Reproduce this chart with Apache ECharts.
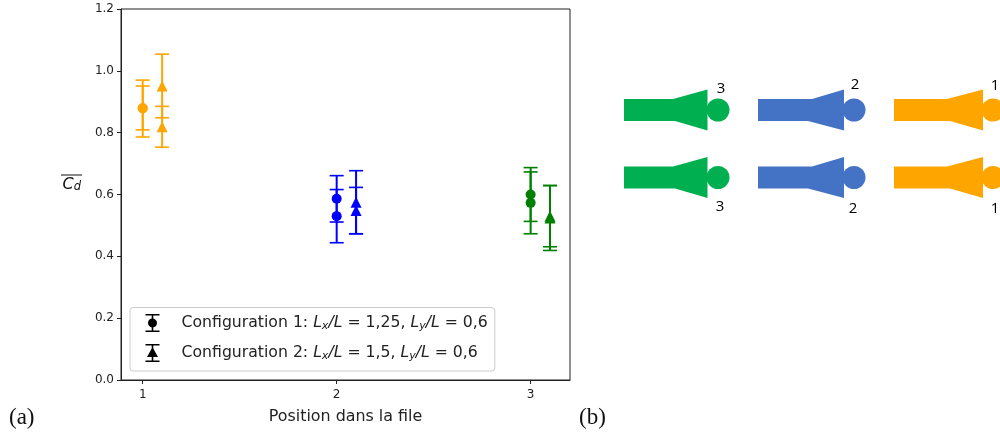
<!DOCTYPE html>
<html><head><meta charset="utf-8">
<style>html,body{margin:0;padding:0;background:#fff}#c{width:1000px;height:434px}</style>
<script src="https://cdn.jsdelivr.net/npm/echarts@6/dist/echarts.min.js"></script>
</head><body><div id="c"></div>
<script>
const positionTicks = [1, 2, 3];
const yTicksMax = 1.2;
const colors = ['#ffa500', '#0000ff', '#008000'];
const config1Name = 'Configuration 1';
const config2Name = 'Configuration 2';
const config1X = [1, 1, 2, 2, 3, 3];
const config1Mean = [0.878, 0.880, 0.586, 0.530, 0.600, 0.573];
const config1Err = [0.092, 0.071, 0.075, 0.086, 0.087, 0.100];
const config1Color = [0, 0, 1, 1, 2, 2];
const config2X = [1.1, 1.1, 2.1, 2.1, 3.1, 3.1];
const config2Mean = [0.951, 0.819, 0.575, 0.548, 0.524, 0.530];
const config2Err = [0.103, 0.066, 0.102, 0.075, 0.105, 0.099];
const config2Color = [0, 0, 1, 1, 2, 2];

const sansFont = 'DejaVu Sans';
function rows(x, m, e, c) { return x.map((v, i) => [v, m[i], e[i], c[i]]); }
function errRender(params, api) {
  const x = api.value(0), m = api.value(1), e = api.value(2), col = colors[api.value(3)];
  const top = api.coord([x, m + e]), bot = api.coord([x, m - e]);
  const w = 7;
  const st = { stroke: col, lineWidth: 2, fill: 'none' };
  return { type: 'group', children: [
    { type: 'line', shape: { x1: top[0], y1: top[1], x2: bot[0], y2: bot[1] }, style: st },
    { type: 'line', shape: { x1: top[0] - w, y1: top[1], x2: top[0] + w, y2: top[1] }, style: { ...st, lineWidth: 1.6 } },
    { type: 'line', shape: { x1: bot[0] - w, y1: bot[1], x2: bot[0] + w, y2: bot[1] }, style: { ...st, lineWidth: 1.6 } }
  ]};
}
function errSeries(d) {
  return { type: 'custom', renderItem: errRender, data: d, encode: { x: 0, y: 1 }, silent: true, clip: false, z: 2 };
}
function markSeries(name, symbol, d) {
  return { name, type: 'scatter', symbol, symbolSize: symbol === 'circle' ? 10 : 11,
    data: d.map(r => ({ value: r, itemStyle: { color: colors[r[3]], opacity: 1 } })), z: 3, silent: true };
}
const chart = echarts.init(document.getElementById('c'), null, { renderer: 'canvas' });

function vehicle(col, x0, xt, xb, xBase, cx, yc, r) {
  return [
    { type: 'polygon', shape: { points: [[x0, yc - 11], [xt, yc - 11], [xBase, yc - 20.5], [xBase, yc + 20.5], [xb, yc + 11], [x0, yc + 11]] }, style: { fill: col } },
    { type: 'circle', shape: { cx, cy: yc, r }, style: { fill: col } }
  ];
}
function lab(t, x, y) {
  return { type: 'text', x, y, style: { text: t, font: '15px "Open Sans"', fill: '#000', align: 'center', verticalAlign: 'middle' } };
}
const schem = [
  ...vehicle('#00b050', 624, 673, 675, 707.5, 718, 110, 11.5),
  ...vehicle('#00b050', 624, 673, 675, 707.5, 718, 177.5, 11.5),
  ...vehicle('#4472c4', 758, 812, 808, 844, 854, 110, 11.5),
  ...vehicle('#4472c4', 758, 812, 808, 844, 854, 177.5, 11.5),
  ...vehicle('#ffa500', 894, 947, 950, 983, 993, 110, 11.5),
  ...vehicle('#ffa500', 894, 947, 950, 983, 993, 177.5, 11.5),
  lab('3', 721, 89), lab('3', 720, 207), lab('2', 855, 85), lab('2', 853, 209), lab('1', 995, 86), lab('1', 995, 209),
  { type: 'text', x: 9, y: 418, style: { text: '(a)', font: '23px "Liberation Serif"', fill: '#111', verticalAlign: 'middle' } },
  { type: 'text', x: 579, y: 418, style: { text: '(b)', font: '23px "Liberation Serif"', fill: '#111', verticalAlign: 'middle' } },
  { type: 'line', shape: { x1: 61, y1: 175, x2: 82, y2: 175 }, style: { stroke: '#111', lineWidth: 1 } }
];
const base = { fontFamily: sansFont, fontSize: 15.7, color: '#222', verticalAlign: 'middle' };
const it = { ...base, fontStyle: 'italic' };
const sb = { fontFamily: sansFont, fontSize: 11, color: '#222', fontStyle: 'italic', verticalAlign: 'bottom', lineHeight: 18 };
const rich = { n: base, i: it, s: sb, g: { width: 17, height: 1 } };
const iconCircle = 'path://M0 0H14V1.6H7.8V4.57A4.5 4.5 0 1 1 6.2 4.57V1.6H0ZM6.2 13.43H7.8V16.4H14V18H0V16.4H6.2Z';
const iconTri = 'path://M0 0H14V1.6H7.8V4.5L12.5 13H7.8V16.4H14V18H0V16.4H6.2V13H1.5L6.2 4.5V1.6H0Z';
const legendText = {};
legendText[config1Name] = '{g|}{n|Configuration 1: }{i|L}{s|x}{i|/L}{n| = 1,25, }{i|L}{s|y}{i|/L}{n| = 0,6}';
legendText[config2Name] = '{g|}{n|Configuration 2: }{i|L}{s|x}{i|/L}{n| = 1,5, }{i|L}{s|y}{i|/L}{n| = 0,6}';

chart.setOption({
  animation: false,
  backgroundColor: '#fff',
  grid: { left: 121, right: 430, top: 9, bottom: 54, show: true, borderColor: '#222', borderWidth: 1, backgroundColor: 'transparent' },
  xAxis: { type: 'value', min: 0.888, max: 3.203,
    name: 'Position dans la file', nameLocation: 'middle', nameGap: 29,
    nameTextStyle: { fontFamily: sansFont, fontSize: 15.9, color: '#222' },
    axisLine: { show: true, onZero: false, lineStyle: { color: '#222', width: 1 } },
    axisTick: { show: true, length: 4, customValues: positionTicks, lineStyle: { color: '#222' } },
    axisLabel: { customValues: positionTicks, fontFamily: sansFont, fontSize: 12, color: '#222', margin: 9, formatter: v => String(v) },
    splitLine: { show: false } },
  yAxis: { type: 'value', min: 0, max: yTicksMax, interval: 0.2,
    name: '{c|C}{d|d}', nameLocation: 'middle', nameRotate: 0, nameGap: 40,
    nameTextStyle: { padding: [0, 0, 19, 0], rich: {
      c: { fontFamily: sansFont, fontStyle: 'italic', fontSize: 16, color: '#111', verticalAlign: 'middle' },
      d: { fontFamily: sansFont, fontStyle: 'italic', fontSize: 11.5, color: '#111', verticalAlign: 'bottom', lineHeight: 16 } } },
    axisLine: { show: true, lineStyle: { color: '#222', width: 1 } },
    axisTick: { show: true, length: 4, lineStyle: { color: '#222' } },
    axisLabel: { fontFamily: sansFont, fontSize: 12, color: '#222', margin: 7, padding: [2, 0, 0, 0], formatter: v => v.toFixed(1) },
    splitLine: { show: false } },
  legend: { orient: 'vertical', left: 130, top: 307.5, padding: [6.5, 7, 9, 15.5], itemGap: 12,
    backgroundColor: '#fff', borderColor: '#ccc', borderWidth: 1, borderRadius: 3,
    itemWidth: 14, itemHeight: 18, selectedMode: false, z: 10,
    textStyle: { rich },
    formatter: n => legendText[n],
    data: [
      { name: config1Name, icon: iconCircle, itemStyle: { color: '#000', opacity: 1 } },
      { name: config2Name, icon: iconTri, itemStyle: { color: '#000', opacity: 1 } }
    ] },
  graphic: schem,
  series: [
    errSeries(rows(config1X, config1Mean, config1Err, config1Color)),
    errSeries(rows(config2X, config2Mean, config2Err, config2Color)),
    markSeries(config1Name, 'circle', rows(config1X, config1Mean, config1Err, config1Color)),
    markSeries(config2Name, 'triangle', rows(config2X, config2Mean, config2Err, config2Color))
  ]
});
</script></body></html>
